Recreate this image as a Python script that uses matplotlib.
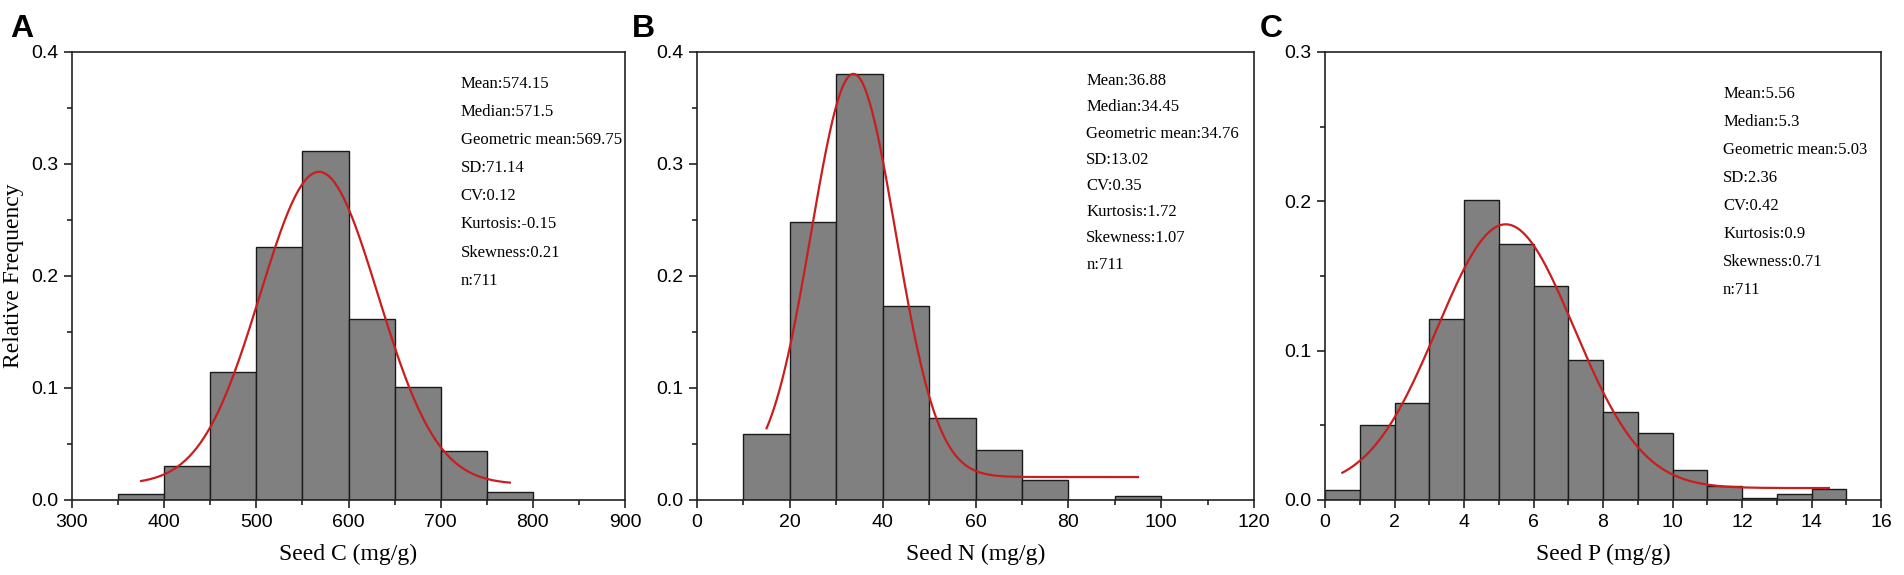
import numpy as np
import matplotlib
matplotlib.use("Agg")
import matplotlib.pyplot as plt
from matplotlib.ticker import MultipleLocator

# histogram data (relative frequency)
c_edges = [350, 400, 450, 500, 550, 600, 650, 700, 750, 800]
c_freq = [0.005, 0.030, 0.114, 0.226, 0.312, 0.162, 0.101, 0.044, 0.007]

n_edges = [10, 20, 30, 40, 50, 60, 70, 80, 90, 100]
n_freq = [0.059, 0.248, 0.380, 0.173, 0.073, 0.045, 0.018, 0.0, 0.004]

p_edges = list(range(0, 16))
p_freq = [0.007, 0.0505, 0.065, 0.121, 0.201, 0.1715, 0.143, 0.094,
          0.059, 0.0448, 0.020, 0.0096, 0.0015, 0.0042, 0.0071]

# gaussian fit parameters: y0, A, xc, w, x start, x end
c_fit = [0.014, 0.279, 568, 64, 375, 775]
n_fit = [0.0205, 0.36, 33.7, 9.1, 15, 95]
p_fit = [0.008, 0.1766, 5.2, 1.97, 0.5, 14.5]

c_stats = ["Mean:574.15", "Median:571.5", "Geometric mean:569.75", "SD:71.14",
           "CV:0.12", "Kurtosis:-0.15", "Skewness:0.21", "n:711"]
n_stats = ["Mean:36.88", "Median:34.45", "Geometric mean:34.76", "SD:13.02",
           "CV:0.35", "Kurtosis:1.72", "Skewness:1.07", "n:711"]
p_stats = ["Mean:5.56", "Median:5.3", "Geometric mean:5.03", "SD:2.36",
           "CV:0.42", "Kurtosis:0.9", "Skewness:0.71", "n:711"]

serif = "Liberation Serif"
sans = "Liberation Sans"


def panel(fig, rect, edges, freq, fit, stats, xlim, xmaj, xmin, ylim,
          xlabel, letter, lx, txt_pos, ylabel=None):
    ax = fig.add_axes(rect)
    edges = np.array(edges, dtype=float)
    ax.bar(edges[:-1], freq, width=np.diff(edges), align="edge",
           color="#808080", edgecolor="#1a1a1a", linewidth=1.0, zorder=2)

    y0, A, xc, w, xa, xb = fit
    xs = np.linspace(xa, xb, 300)
    ax.plot(xs, y0 + A * np.exp(-(xs - xc) ** 2 / (2 * w ** 2)),
            color="#c81e1e", linewidth=1.6, zorder=3)

    ax.set_xlim(*xlim)
    ax.set_ylim(*ylim)
    ax.xaxis.set_major_locator(MultipleLocator(xmaj))
    ax.xaxis.set_minor_locator(MultipleLocator(xmin))
    ax.yaxis.set_major_locator(MultipleLocator(0.1))
    ax.yaxis.set_minor_locator(MultipleLocator(0.05))
    ax.yaxis.set_major_formatter(matplotlib.ticker.FormatStrFormatter("%.1f"))
    ax.tick_params(which="both", direction="out", top=False, right=False,
                   width=1.2, color="#222222")
    ax.tick_params(which="major", length=6, labelsize=14, pad=4)
    ax.tick_params(which="minor", length=3.5)
    for lab in ax.get_xticklabels() + ax.get_yticklabels():
        lab.set_fontfamily(sans)
    for sp in ax.spines.values():
        sp.set_linewidth(1.2)
        sp.set_color("#222222")

    ax.set_xlabel(xlabel, fontfamily=serif, fontsize=17, labelpad=9)
    if ylabel:
        ax.set_ylabel(ylabel, fontfamily=serif, fontsize=17, labelpad=5)

    tx, ty, dy = txt_pos
    for i, s in enumerate(stats):
        ax.text(tx, ty - i * dy, s, transform=ax.transAxes, fontfamily=serif,
                fontsize=12, va="center", ha="left")

    fig.text(lx, 0.975, letter, fontfamily=sans, fontweight="bold",
             fontsize=23, va="top", ha="left")
    return ax


fig = plt.figure(figsize=(19.04, 5.75), dpi=100)

bot = 1 - 500 / 575
h = 448 / 575
panel(fig, [72 / 1904, bot, 553 / 1904, h], c_edges, c_freq, c_fit, c_stats,
      (300, 900), 100, 50, (0, 0.4), "Seed C (mg/g)", "A", 10 / 1904,
      (0.703, 0.928, 0.0626), ylabel="Relative Frequency")
panel(fig, [697 / 1904, bot, 557 / 1904, h], n_edges, n_freq, n_fit, n_stats,
      (0, 120), 20, 10, (0, 0.4), "Seed N (mg/g)", "B", 632 / 1904,
      (0.699, 0.935, 0.0585))
panel(fig, [1325 / 1904, bot, 556 / 1904, h], p_edges, p_freq, p_fit, p_stats,
      (0, 16), 2, 1, (0, 0.3), "Seed P (mg/g)", "C", 1260 / 1904,
      (0.716, 0.907, 0.0626))

fig.savefig("out.png", dpi=100, facecolor="white")
